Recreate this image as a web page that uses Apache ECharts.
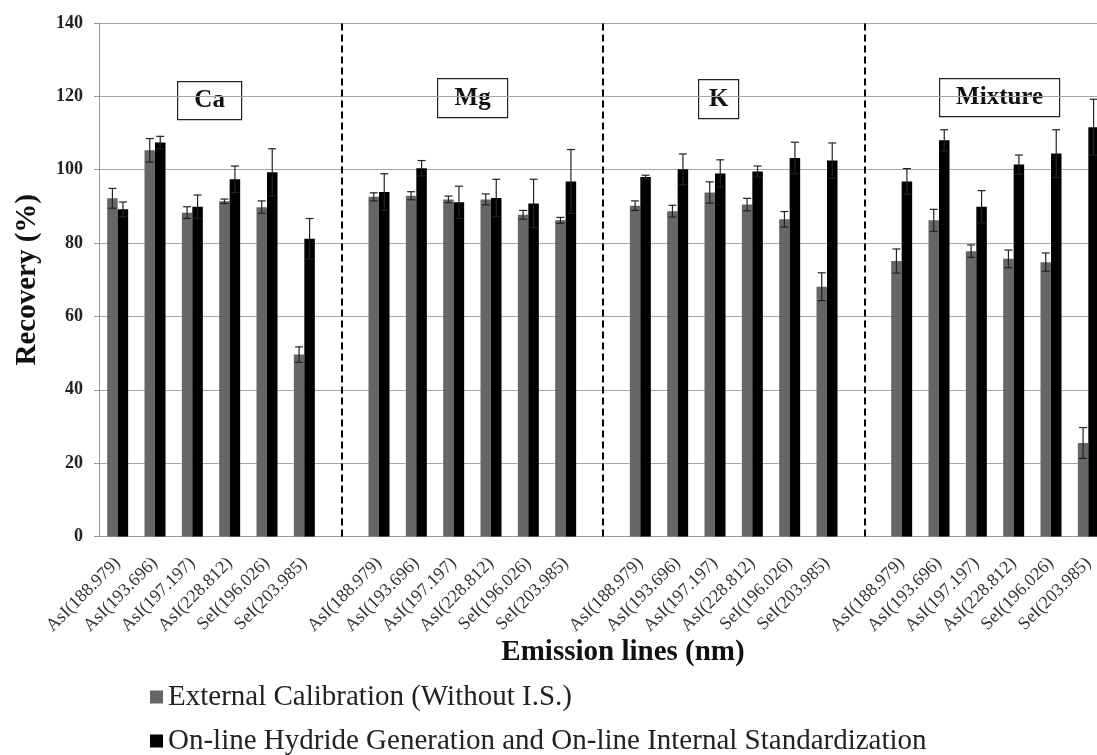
<!DOCTYPE html>
<html>
<head>
<meta charset="utf-8">
<script src="https://cdn.jsdelivr.net/npm/echarts@6/dist/echarts.min.js"></script>
<style>
  html, body { margin: 0; padding: 0; background: #fff; overflow: hidden; }
  /* the original figure is cropped on the right, so the canvas is a bit wider than the window */
  #chart { width: 1110px; height: 755px; }
</style>
</head>
<body>
<div id="chart"></div>
<script>
// emission lines repeated for each matrix group
const lineLabels = ['AsI(188.979)', 'AsI(193.696)', 'AsI(197.197)', 'AsI(228.812)', 'SeI(196.026)', 'SeI(203.985)']
const groupNames = ['Ca', 'Mg', 'K', 'Mixture']

// recovery (%) in group order Ca, Mg, K, Mixture
const extCal = [92.2, 105.3, 88.3, 91.4, 89.8, 49.6, 92.6, 92.9, 91.9, 91.9, 87.7, 86.2, 90.2, 88.7, 93.8, 90.5, 86.5, 68.1, 75.1, 86.2, 77.8, 75.7, 74.8, 25.5]
const extErr = [2.7, 3.2, 1.6, 0.6, 1.7, 2.1, 1.1, 1.1, 0.9, 1.5, 1.2, 0.8, 1.3, 1.6, 2.9, 1.7, 2.1, 3.8, 3.3, 3.0, 1.7, 2.4, 2.5, 4.2]
const hgIS = [89.2, 107.4, 89.9, 97.4, 99.3, 81.2, 93.9, 100.4, 91.1, 92.3, 90.8, 96.8, 98.0, 100.1, 99.0, 99.5, 103.2, 102.5, 96.8, 108.0, 89.9, 101.4, 104.4, 111.6]
const hgErr = [2.0, 1.7, 3.2, 3.6, 6.4, 5.5, 5.0, 2.1, 4.4, 5.1, 6.6, 8.7, 0.5, 4.2, 3.7, 1.5, 4.3, 4.8, 3.5, 2.9, 4.4, 2.6, 6.5, 7.6]

const seriesNames = ['External Calibration (Without I.S.)', 'On-line Hydride Generation and On-line Internal Standardization']
const yTicks = { min: 0, max: 140, interval: 20 }

const serif = '"Liberation Serif", "DejaVu Serif", serif'
const barW = 10.5

// build the category axis with one empty slot between groups
const categories = []
const dataIdx = []   // category index of each value
const gapIdx = []    // index of empty slots (dashed separators)
groupNames.forEach((g, gi) => {
  lineLabels.forEach(l => {
    dataIdx.push(categories.length)
    categories.push(l)
  })
  if (gi < groupNames.length - 1) {
    gapIdx.push(categories.length)
    categories.push(' '.repeat(gi + 1))
  }
})

const toSeries = vals => {
  const arr = categories.map(() => '-')
  vals.forEach((v, i) => { arr[dataIdx[i]] = v })
  return arr
}

const errData = (vals, errs) => vals.map((v, i) => [dataIdx[i], v, errs[i]])

const errRender = offset => (params, api) => {
  const x = api.value(0)
  const v = api.value(1)
  const e = api.value(2)
  const hi = api.coord([x, v + e])
  const lo = api.coord([x, v - e])
  const cx = hi[0] + offset
  const cap = 4
  const style = { stroke: '#222', lineWidth: 1.2 }
  return {
    type: 'group',
    children: [
      { type: 'line', shape: { x1: cx, y1: hi[1], x2: cx, y2: lo[1] }, style },
      { type: 'line', shape: { x1: cx - cap, y1: hi[1], x2: cx + cap, y2: hi[1] }, style },
      { type: 'line', shape: { x1: cx - cap, y1: lo[1], x2: cx + cap, y2: lo[1] }, style }
    ]
  }
}

// boxed group captions
const boxes = [
  { name: groupNames[0], x: 177, y: 81, w: 64, h: 38 },
  { name: groupNames[1], x: 437, y: 78, w: 70, h: 39 },
  { name: groupNames[2], x: 698, y: 79, w: 40, h: 39 },
  { name: groupNames[3], x: 939, y: 78, w: 120, h: 38 }
]

const myChart = echarts.init(document.getElementById('chart'))

const option = {
  backgroundColor: '#fff',
  animation: false,
  grid: { left: 99, top: 23, right: 3, bottom: 218.5 },
  legend: {
    orient: 'vertical',
    left: 145,
    top: 677,
    height: 120,
    itemWidth: 13,
    itemHeight: 13,
    itemGap: 14,
    icon: 'rect',
    data: seriesNames,
    textStyle: { fontFamily: serif, fontSize: 29, color: '#222', lineHeight: 30 }
  },
  xAxis: {
    type: 'category',
    data: categories,
    name: 'Emission lines (nm)',
    nameLocation: 'middle',
    nameGap: 102,
    nameMoveOverlap: false,
    nameTextStyle: { fontFamily: serif, fontSize: 29, fontWeight: 'bold', color: '#111', padding: [0, 0, 0, 40] },
    axisLine: { lineStyle: { color: '#999' } },
    axisTick: { show: false },
    axisLabel: { interval: 0, rotate: 45, margin: 24, fontFamily: serif, fontSize: 18, color: '#333' }
  },
  yAxis: {
    type: 'value',
    min: yTicks.min,
    max: yTicks.max,
    interval: yTicks.interval,
    name: 'Recovery (%)',
    nameLocation: 'middle',
    nameRotate: 90,
    nameGap: 57,
    nameMoveOverlap: false,
    nameTextStyle: { fontFamily: serif, fontSize: 29, fontWeight: 'bold', color: '#111' },
    axisLine: { show: true, lineStyle: { color: '#999' } },
    axisTick: { show: true, length: 5, lineStyle: { color: '#999' } },
    axisLabel: { margin: 16, fontFamily: serif, fontSize: 18, fontWeight: 'bold', color: '#222' },
    splitLine: { lineStyle: { color: '#a6a6a6' } }
  },
  series: [
    {
      name: seriesNames[0],
      type: 'bar',
      data: toSeries(extCal),
      barWidth: barW,
      barGap: '0%',
      itemStyle: { color: '#666666' }
    },
    {
      name: seriesNames[1],
      type: 'bar',
      data: toSeries(hgIS),
      barWidth: barW,
      barGap: '0%',
      itemStyle: { color: '#000000' }
    },
    {
      type: 'custom',
      data: errData(extCal, extErr),
      encode: { x: 0, y: 1 },
      renderItem: errRender(-barW / 2),
      z: 10,
      // dashed separators between the matrix groups
      markLine: {
        silent: true,
        symbol: 'none',
        label: { show: false },
        lineStyle: { color: '#000', type: [7, 4], width: 2 },
        data: gapIdx.map(i => ({ xAxis: i }))
      }
    },
    {
      type: 'custom',
      data: errData(hgIS, hgErr),
      encode: { x: 0, y: 1 },
      renderItem: errRender(barW / 2),
      z: 10
    }
  ],
  graphic: boxes.map(b => ({
    type: 'group',
    left: b.x,
    top: b.y,
    z: 100,
    children: [
      { type: 'rect', shape: { x: 0, y: 0, width: b.w, height: b.h }, style: { fill: '#fff', stroke: '#222', lineWidth: 1.2 } },
      { type: 'text', x: b.w / 2, y: b.h / 2, style: { text: b.name, font: 'bold 25px ' + serif, fill: '#111', align: 'center', verticalAlign: 'middle' } }
    ]
  }))
}

myChart.setOption(option)
</script>
</body>
</html>
